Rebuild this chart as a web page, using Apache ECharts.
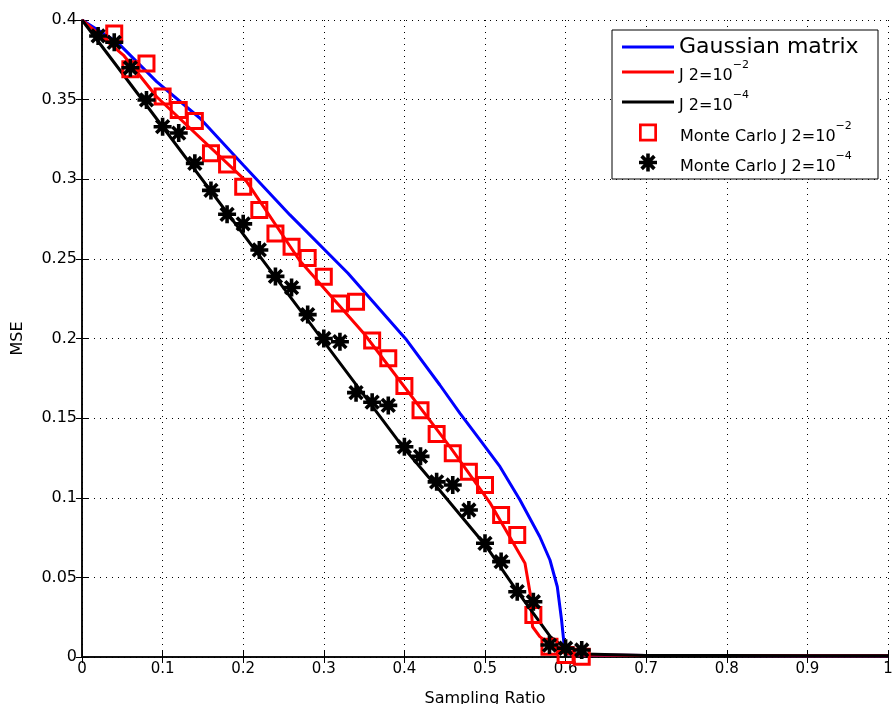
<!DOCTYPE html>
<html>
<head>
<meta charset="utf-8">
<script src="https://cdn.jsdelivr.net/npm/echarts@6/dist/echarts.min.js"></script>
<style>
  html, body { margin: 0; padding: 0; background: #fff; }
  #chart { width: 893px; height: 704px; }
</style>
</head>
<body>
<div id="chart"></div>
<script>
// Gaussian matrix (theory)
const gaussX = [0, 0.043, 0.0926, 0.1464, 0.2, 0.258, 0.33, 0.4028, 0.444, 0.469, 0.4938, 0.5186, 0.5434, 0.568, 0.5806, 0.5897, 0.595, 0.598, 0.601, 0.62, 0.7, 0.8, 0.9, 1];
const gaussY = [0.4, 0.3864, 0.3613, 0.3383, 0.309, 0.2776, 0.241, 0.199, 0.1708, 0.153, 0.1363, 0.1195, 0.0986, 0.0755, 0.0609, 0.0441, 0.0232, 0.0086, 0.002, 0.0012, 0.001, 0.0009, 0.0008, 0.0008];

// J2 = 1e-2 (theory)
const j2aX = [0, 0.0513, 0.0926, 0.2043, 0.27, 0.35, 0.4566, 0.506, 0.5496, 0.556, 0.559, 0.568, 0.585, 0.6, 0.62, 0.7, 0.8, 0.9, 1];
const j2aY = [0.4, 0.378, 0.3518, 0.2985, 0.249, 0.203, 0.132, 0.097, 0.0588, 0.040, 0.019, 0.0128, 0.0065, 0.002, 0.0012, 0.001, 0.0009, 0.0008, 0.0008];

// J2 = 1e-4 (theory)
const j2bX = [0, 0.0844, 0.22, 0.398, 0.444, 0.5, 0.539, 0.581, 0.597, 0.61, 0.7, 0.8, 0.9, 1];
const j2bY = [0.4, 0.3435, 0.252, 0.132, 0.1045, 0.0705, 0.042, 0.0128, 0.0065, 0.002, 0.001, 0.0009, 0.0008, 0.0008];

// Monte Carlo J2 = 1e-2
const mcaX = [0.04, 0.06, 0.08, 0.10, 0.12, 0.14, 0.16, 0.18, 0.20, 0.22, 0.24, 0.26, 0.28, 0.30, 0.32, 0.34, 0.36, 0.38, 0.40, 0.42, 0.44, 0.46, 0.48, 0.50, 0.52, 0.54, 0.56, 0.58, 0.60, 0.62];
const mcaY = [0.3916, 0.369, 0.3727, 0.352, 0.3435, 0.3366, 0.3163, 0.3093, 0.2953, 0.2807, 0.266, 0.2576, 0.2505, 0.2388, 0.222, 0.223, 0.1987, 0.1876, 0.1702, 0.155, 0.14, 0.1279, 0.1164, 0.108, 0.0892, 0.0766, 0.0264, 0.0065, 0.0013, 0.0002];

// Monte Carlo J2 = 1e-4
const mcbX = [0.02, 0.04, 0.06, 0.08, 0.10, 0.12, 0.14, 0.16, 0.18, 0.20, 0.22, 0.24, 0.26, 0.28, 0.30, 0.32, 0.34, 0.36, 0.38, 0.40, 0.42, 0.44, 0.46, 0.48, 0.50, 0.52, 0.54, 0.56, 0.58, 0.60, 0.62];
const mcbY = [0.390, 0.386, 0.370, 0.3498, 0.333, 0.329, 0.310, 0.293, 0.278, 0.272, 0.2556, 0.239, 0.232, 0.215, 0.200, 0.198, 0.166, 0.160, 0.158, 0.132, 0.126, 0.110, 0.108, 0.0923, 0.0714, 0.0599, 0.041, 0.0347, 0.0075, 0.0055, 0.0044];

const xTicks = [0, 0.1, 0.2, 0.3, 0.4, 0.5, 0.6, 0.7, 0.8, 0.9, 1];
const yTicks = [0, 0.05, 0.1, 0.15, 0.2, 0.25, 0.3, 0.35, 0.4];

const zip = (xs, ys) => xs.map((x, i) => [x, ys[i]]);

// 8-arm asterisk marker
const STAR = 'path://M-10,-2L10,-2L10,2L-10,2Z' +
  'M2,-10L2,10L-2,10L-2,-10Z' +
  'M-5.66,-8.49L8.49,5.66L5.66,8.49L-8.49,-5.66Z' +
  'M8.49,-5.66L-5.66,8.49L-8.49,5.66L5.66,-8.49Z';
const LINE_ICON = 'path://M0,0H52V3H0Z';
const SQUARE_ICON = 'path://M0,0H20V20H0ZM3,3V17H17V3Z';

const FONT = 'DejaVu Sans';
const chart = echarts.init(document.getElementById('chart'));

const rich = {
  n: { fontSize: 16, fontFamily: FONT, color: '#000', lineHeight: 24, verticalAlign: 'bottom' },
  m: { fontSize: 16, fontFamily: FONT, color: '#000', lineHeight: 24, verticalAlign: 'bottom', padding: [0, 0, 0, 18] },
  s: { fontSize: 11, fontFamily: FONT, color: '#000', lineHeight: 11, verticalAlign: 'top' }
};

function legendRow(item, left, top, w, h, label, size) {
  return {
    data: [item],
    left: left, top: top,
    orient: 'vertical',
    itemWidth: w, itemHeight: h,
    padding: 0,
    selectedMode: false,
    z: 10,
    formatter: () => label,
    textStyle: { fontSize: size || 16, fontFamily: FONT, color: '#000', rich: rich }
  };
}

const option = {
  animation: false,
  backgroundColor: '#fff',
  grid: { left: 82, right: 5, top: 20, bottom: 47, containLabel: false, outerBoundsMode: 'none' },
  graphic: [{
    type: 'rect',
    shape: { x: 612, y: 30, width: 266, height: 149 },
    style: { fill: '#fff', stroke: '#000', lineWidth: 1 },
    z: 5
  }],
  legend: [
    legendRow({ name: 'Gaussian matrix', icon: LINE_ICON }, 622, 36, 52, 22, 'Gaussian matrix', 22),
    legendRow({ name: 'J 2=10^-2', icon: LINE_ICON }, 622, 60, 52, 16, '{n|J 2=10}{s|\u22122}'),
    legendRow({ name: 'J 2=10^-4', icon: LINE_ICON }, 622, 90, 52, 16, '{n|J 2=10}{s|\u22124}'),
    legendRow({ name: 'Monte Carlo J 2=10^-2', icon: SQUARE_ICON, itemStyle: { color: '#ff0000', borderWidth: 0 } },
      639, 120.5, 18, 18, '{m|Monte Carlo J 2=10}{s|\u22122}'),
    legendRow({ name: 'Monte Carlo J 2=10^-4', icon: STAR, itemStyle: { color: '#000', borderWidth: 0 } },
      639, 150.5, 18, 18, '{m|Monte Carlo J 2=10}{s|\u22124}')
  ],
  xAxis: [{
    type: 'value', min: 0, max: 1, interval: 0.1,
    name: 'Sampling Ratio', nameLocation: 'middle', nameGap: 34,
    nameTextStyle: { fontSize: 16, fontFamily: FONT, color: '#000' },
    axisLine: { lineStyle: { color: '#000', width: 1.5 } },
    axisTick: { inside: true, length: 6, lineStyle: { color: '#000' } },
    axisLabel: { fontSize: 15, fontFamily: FONT, color: '#000', margin: 5,
      customValues: xTicks, formatter: v => String(+v.toFixed(2)) },
    splitLine: { show: true, lineStyle: { color: '#000', width: 1, type: [1, 5] } }
  }, {
    type: 'value', min: 0, max: 1, interval: 0.1, position: 'top',
    axisLine: { lineStyle: { color: '#000', width: 1.5 } },
    axisTick: { inside: true, length: 6, lineStyle: { color: '#000' } },
    axisLabel: { show: false }, splitLine: { show: false }
  }],
  yAxis: [{
    type: 'value', min: 0, max: 0.4, interval: 0.05,
    name: 'MSE', nameLocation: 'middle', nameGap: 56, nameRotate: 90,
    nameTextStyle: { fontSize: 16, fontFamily: FONT, color: '#000' },
    axisLine: { show: true, lineStyle: { color: '#000', width: 1.5 } },
    axisTick: { show: true, inside: true, length: 6, lineStyle: { color: '#000' } },
    axisLabel: { fontSize: 16, fontFamily: FONT, color: '#000', margin: 5,
      customValues: yTicks, formatter: v => String(+v.toFixed(2)) },
    splitLine: { show: true, lineStyle: { color: '#000', width: 1, type: [1, 5] } }
  }, {
    type: 'value', min: 0, max: 0.4, interval: 0.05, position: 'right',
    axisLine: { show: true, lineStyle: { color: '#000', width: 1.5 } },
    axisTick: { show: true, inside: true, length: 6, lineStyle: { color: '#000' } },
    axisLabel: { show: false }, splitLine: { show: false }
  }],
  series: [
    {
      name: 'Gaussian matrix', type: 'line', symbol: 'none',
      data: zip(gaussX, gaussY),
      lineStyle: { color: '#0000ff', width: 3 }, itemStyle: { color: '#0000ff' }, z: 2
    },
    {
      name: 'J 2=10^-2', type: 'line', symbol: 'none',
      data: zip(j2aX, j2aY),
      lineStyle: { color: '#ff0000', width: 3 }, itemStyle: { color: '#ff0000' }, z: 3
    },
    {
      name: 'J 2=10^-4', type: 'line', symbol: 'none',
      data: zip(j2bX, j2bY),
      lineStyle: { color: '#000', width: 3 }, itemStyle: { color: '#000' }, z: 4
    },
    {
      name: 'Monte Carlo J 2=10^-2', type: 'scatter', symbol: 'rect', symbolSize: 15,
      data: zip(mcaX, mcaY),
      itemStyle: { color: 'rgba(255,255,255,0)', borderColor: '#ff0000', borderWidth: 3, opacity: 1 }, z: 5
    },
    {
      name: 'Monte Carlo J 2=10^-4', type: 'scatter', symbol: STAR, symbolSize: 18,
      data: zip(mcbX, mcbY),
      itemStyle: { color: '#000', opacity: 1 }, z: 6
    }
  ]
};

chart.setOption(option);
</script>
</body>
</html>
